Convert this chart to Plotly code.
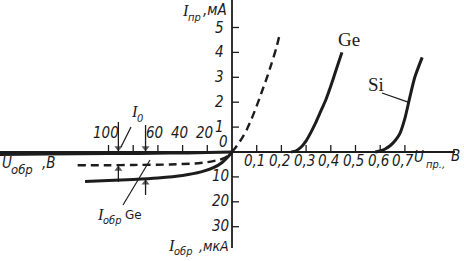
import numpy as np
import plotly.graph_objects as go

# ---------------- data ----------------
# forward branch, volts / milliamps
ideal_fwd_V  = [0.0, 0.02, 0.04, 0.06, 0.08, 0.10, 0.12, 0.14, 0.16, 0.18, 0.195]
ideal_fwd_mA = [0.0, 0.25, 0.55, 0.9, 1.35, 1.85, 2.4, 2.95, 3.55, 4.2, 4.8]
ge_fwd_V  = [0.24, 0.26, 0.28, 0.30, 0.32, 0.34, 0.36, 0.38, 0.40, 0.42, 0.445]
ge_fwd_mA = [0.0, 0.05, 0.2, 0.45, 0.8, 1.2, 1.65, 2.1, 2.65, 3.25, 4.0]
si_fwd_V  = [0.58, 0.60, 0.62, 0.64, 0.66, 0.68, 0.70, 0.72, 0.74, 0.77]
si_fwd_mA = [0.0, 0.04, 0.12, 0.25, 0.45, 0.75, 1.35, 2.2, 3.0, 3.8]
# reverse branch, volts / microamps
ideal_rev_V  = [-125, -100, -80, -50, -30, -20, -10, -5, -2, 0]
ideal_rev_uA = [-5.3, -5.3, -5.2, -5.0, -4.6, -4.1, -3.1, -2.1, -1.0, 0.0]
ge_rev_V  = [-119, -100, -80, -60, -40, -25, -15, -8, -3, 0]
ge_rev_uA = [-11.8, -11.4, -11.0, -10.4, -9.4, -8.0, -6.3, -4.2, -1.8, 0.0]
si_rev_V  = [-190, -150, -100, -50, -20, 0]
si_rev_uA = [-1.0, -0.85, -0.65, -0.45, -0.25, 0.0]

# axis ticks and labels
xpos_ticks  = [0.1, 0.2, 0.3, 0.4, 0.5, 0.6, 0.7]
xpos_labels = ["0,1", "0,2", "0,3", "0,4", "0,5", "0,6", "0,7"]
xneg_ticks  = [-20, -40, -60, -80, -100]
xneg_labels = ["20", "40", "60", "", "100"]
ypos_ticks  = [1, 2, 3, 4, 5]
ypos_labels = ["1", "2", "3", "4", "5"]
yneg_ticks  = [-10, -20, -30]
yneg_labels = ["10", "20", "30"]

I0_at_V = -92      # where the I0 dimension arrow is drawn
IGe_at_V = -70     # where the I_obr Ge dimension arrow is drawn

# ---------------- scales ----------------
W, H = 464, 261
OX, OY = 232, 152          # origin in pixels
SX, SY = 24.7, 24.9        # pixels per axis unit


def fx(v):
    v = np.asarray(v, dtype=float)
    return np.where(v >= 0, v / 0.1, v / 20.0)


def fy_f(i):
    return np.asarray(i, dtype=float)


def fy_r(i):
    return np.asarray(i, dtype=float) / 10.0


def px(x):  # pixel x -> axis unit
    return (x - OX) / SX


def py(y):  # pixel y -> axis unit
    return (OY - y) / SY


INK = "#1c1c1c"
FONT = "Liberation Sans Narrow, DejaVu Sans Condensed, Arial Narrow, sans-serif"
SERIF = "Liberation Serif, DejaVu Serif, serif"
PLAIN = "DejaVu Sans, sans-serif"

fig = go.Figure()


def curve(xv, yv, width=3, dash=None):
    fig.add_trace(go.Scatter(x=xv, y=yv, mode="lines",
                             line=dict(color=INK, width=width, dash=dash, shape="spline", smoothing=0.6),
                             hoverinfo="skip"))


def seg(x0, y0, x1, y1, width=1.3):
    fig.add_shape(type="line", x0=x0, y0=y0, x1=x1, y1=y1, line=dict(color=INK, width=width))


# axes
fig.add_trace(go.Scatter(x=[px(0), px(455)], y=[0, 0], mode="lines",
                         line=dict(color=INK, width=1.8), hoverinfo="skip"))
fig.add_trace(go.Scatter(x=[0, 0], y=[py(0), py(248)], mode="lines",
                         line=dict(color=INK, width=1.8), hoverinfo="skip"))

# ticks
tlen_x = 7 / SY
tlen_y = 7 / SX
for t in list(fx(xpos_ticks)) + list(fx(xneg_ticks)):
    seg(t, 0, t, tlen_x)
for t in list(fy_f(ypos_ticks)) + list(fy_r(yneg_ticks)):
    seg(0, t, tlen_y, t)

# curves
curve(fx(ideal_fwd_V), fy_f(ideal_fwd_mA), width=2.4, dash="8px,5px")
curve(fx(ideal_rev_V), fy_r(ideal_rev_uA), width=2.4, dash="8px,5px")
curve(fx(ge_fwd_V), fy_f(ge_fwd_mA), width=3)
curve(fx(ge_rev_V), fy_r(ge_rev_uA), width=3)
curve(fx(si_fwd_V), fy_f(si_fwd_mA), width=3)
curve(fx(si_rev_V), fy_r(si_rev_uA), width=3)

ann = []


def text(x, y, s, size=15, xa="center", ya="middle", family=FONT):
    ann.append(dict(x=x, y=y, text=s, showarrow=False, xanchor=xa, yanchor=ya,
                    borderpad=0, borderwidth=0,
                    font=dict(family=family, size=size, color=INK)))


def ptext(xp, yp, s, size=15, xa="left", family=FONT):
    """text placed at pixel position"""
    text(px(xp), py(yp), s, size=size, xa=xa, family=family)


# tick labels
for t, lab in zip(xpos_ticks, xpos_labels):
    text(float(fx(t)) - 2 / SX, py(161), "<i>%s</i>" % lab)
for t, lab in zip(xneg_ticks, xneg_labels):
    if lab:
        text(float(fx(t)) - 3 / SX, py(133), "<i>%s</i>" % lab)
for t, lab in zip(ypos_ticks, ypos_labels):
    text(px(224), float(fy_f(t)), "<i>%s</i>" % lab, xa="right")
for t, lab in zip(yneg_ticks, yneg_labels):
    text(px(229), float(fy_r(t)) + 1 / SY, "<i>%s</i>" % lab, xa="right")
text(px(223), py(142), "<i>0</i>")

# axis titles (main text + separately placed subscripts)
SUB = 11
# I_пр, мА  (top)
ptext(189, 10, "<i>I</i>", size=16, xa="right", family=SERIF)
ptext(188, 17, "<i>пр</i>", size=SUB)
ptext(227, 10, "<i>,мА</i>", xa="right")
# I_обр, мкА  (bottom)
ptext(175, 245, "<i>I</i>", size=16, xa="right", family=SERIF)
ptext(174, 251, "<i>обр</i>", size=SUB)
ptext(229, 246, "<i>,мкА</i>", size=14, xa="right")
# U_обр, В  (left)
ptext(2, 163, "<i>U</i>")
ptext(11, 169, "<i>обр</i>", size=13)
ptext(56, 163, "<i>,В</i>", xa="right")
# U_пр., В  (right)
ptext(414, 157, "<i>U</i>")
ptext(426, 164, "<i>пр.,</i>", size=SUB)
ptext(451, 156, "<i>В</i>")

# curve labels
text(px(349), py(39), "Ge", size=19, family=SERIF)
text(px(376), py(84), "Si", size=19, family=SERIF)
seg(px(382), py(93), float(fx(0.713)), 2.0)

# dimension arrows for I0 and I_obr Ge (lines + triangle heads)
x0a = float(fx(I0_at_V))
yd = float(fy_r(np.interp(I0_at_V, ideal_rev_V, ideal_rev_uA)))
x0b = float(fx(IGe_at_V))
yg = float(fy_r(np.interp(IGe_at_V, ge_rev_V, ge_rev_uA)))
hd = 4 / SY   # head offset so the triangle tip touches the line
for xa_, ytop, ybot, yc in [(x0a, py(122), py(182), yd), (x0b, py(125), py(195), yg)]:
    seg(xa_, ytop, xa_, 0, 1.3)
    seg(xa_, yc, xa_, ybot, 1.3)
    fig.add_trace(go.Scatter(x=[xa_, xa_], y=[hd, yc - hd], mode="markers",
                             marker=dict(symbol=["triangle-down", "triangle-up"], size=[7, 7],
                                         color=INK, line=dict(width=0)),
                             hoverinfo="skip"))

# I_0 label
ptext(138, 111, "<i>I</i>", size=16, xa="right", family=SERIF)
ptext(137, 118, "<i>0</i>", size=SUB)
seg(px(131), py(127), px(121), py(147), 1.2)
# I_обр Ge label
ptext(104, 214, "<i>I</i>", size=16, xa="right", family=SERIF)
ptext(103, 220, "<i>обр</i>", size=SUB)
ptext(125, 215, "Ge", size=12, family=PLAIN)
seg(px(123), py(205), px(150), py(160), 1.2)

fig.update_layout(
    width=W, height=H, margin=dict(l=0, r=0, t=0, b=0),
    paper_bgcolor="white", plot_bgcolor="white", showlegend=False,
    xaxis=dict(visible=False, range=[px(0), px(W)], fixedrange=True),
    yaxis=dict(visible=False, range=[py(H), py(0)], fixedrange=True),
    annotations=ann,
)

fig.write_html("out.html")
